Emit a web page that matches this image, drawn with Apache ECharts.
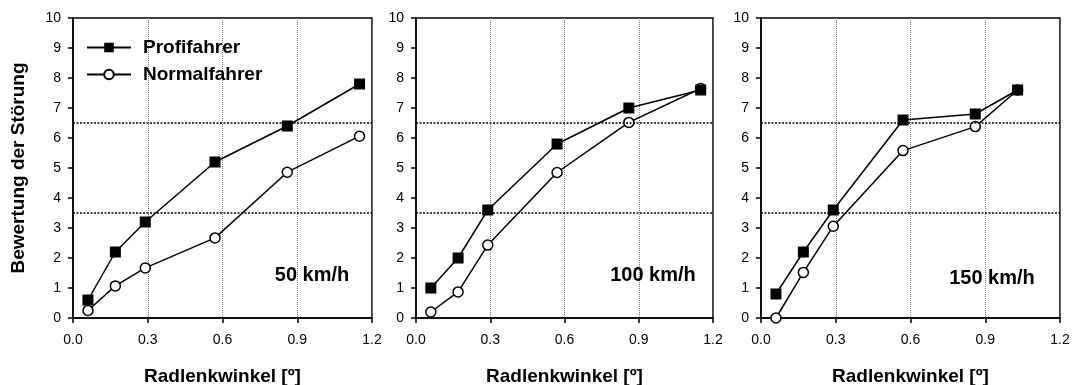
<!DOCTYPE html>
<html>
<head>
<meta charset="utf-8">
<script src="https://cdn.jsdelivr.net/npm/echarts@6/dist/echarts.min.js"></script>
<style>html,body{margin:0;padding:0;background:#fff}#c{width:1075px;height:385px}</style>
</head>
<body>
<div id="c"></div>
<script>
// ---- data ----
const panelLabels = ['50 km/h', '100 km/h', '150 km/h'];
const seriesNames = ['Profifahrer', 'Normalfahrer'];
const xTicks = [0.0, 0.3, 0.6, 0.9, 1.2];
const yTicks = [0, 1, 2, 3, 4, 5, 6, 7, 8, 9, 10];
const refLevels = [3.5, 6.5];
const xAxisTitle = 'Radlenkwinkel [º]';
const yAxisTitle = 'Bewertung der Störung';

const x50 = [0.06, 0.17, 0.29, 0.57, 0.86, 1.15];
const profi50 = [0.6, 2.2, 3.2, 5.2, 6.4, 7.8];
const normal50 = [0.25, 1.07, 1.67, 2.67, 4.86, 6.06];

const x100 = [0.06, 0.17, 0.29, 0.57, 0.86, 1.15];
const profi100 = [1.0, 2.0, 3.6, 5.8, 7.0, 7.6];
const normal100 = [0.2, 0.87, 2.43, 4.85, 6.52, 7.65];

const x150 = [0.06, 0.17, 0.29, 0.57, 0.86, 1.03];
const profi150 = [0.8, 2.2, 3.6, 6.6, 6.8, 7.6];
const normal150 = [0.0, 1.52, 3.06, 5.58, 6.38, 7.6];

const panels = [
  {x: x50, profi: profi50, normal: normal50},
  {x: x100, profi: profi100, normal: normal100},
  {x: x150, profi: profi150, normal: normal150}
];

// ---- layout ----
const FONT = 'Arial, "Liberation Sans", sans-serif';
const grids = [
  {left: 73, top: 18, width: 299, height: 300},
  {left: 416, top: 18, width: 297, height: 300},
  {left: 761, top: 18, width: 299, height: 300}
];
const labelPos = [[312, 275], [653, 275], [992, 278]];

const zip = (xs, ys) => xs.map((v, i) => [v, ys[i]]);

const option = {
  animation: false,
  backgroundColor: '#fff',
  grid: grids.map(g => Object.assign({
    show: true, borderColor: '#000', borderWidth: 1.5, backgroundColor: 'transparent',
    containLabel: false, outerBoundsMode: 'none'
  }, g)),
  xAxis: grids.map((g, i) => ({
    type: 'value', gridIndex: i, min: xTicks[0], max: xTicks[xTicks.length - 1], interval: 0.3,
    name: xAxisTitle, nameLocation: 'middle', nameGap: 49,
    nameTextStyle: {fontFamily: FONT, fontWeight: 'bold', fontSize: 19, color: '#000'},
    axisLine: {show: true, onZero: false, lineStyle: {color: '#000', width: 1.5}},
    axisTick: {show: true, length: 5, lineStyle: {color: '#000', width: 1.5}},
    axisLabel: {fontFamily: FONT, fontSize: 14, color: '#000', margin: 15, formatter: v => v.toFixed(1)},
    splitLine: {show: true, lineStyle: {color: '#777', width: 1, type: [1, 1]}}
  })),
  yAxis: grids.map((g, i) => ({
    type: 'value', gridIndex: i, min: yTicks[0], max: yTicks[yTicks.length - 1], interval: 1,
    name: i === 0 ? yAxisTitle : '', nameLocation: 'middle', nameGap: 45,
    nameTextStyle: {fontFamily: FONT, fontWeight: 'bold', fontSize: 19, color: '#000'},
    axisLine: {show: true, onZero: false, lineStyle: {color: '#000', width: 1.5}},
    axisTick: {show: true, length: 5, lineStyle: {color: '#000', width: 1.5}},
    axisLabel: {fontFamily: FONT, fontSize: 14, color: '#000', margin: 12},
    splitLine: {show: false}
  })),
  legend: {
    data: seriesNames,
    orient: 'vertical', left: 81, top: 33, itemGap: 8,
    itemWidth: 44, itemHeight: 12,
    textStyle: {fontFamily: FONT, fontWeight: 'bold', fontSize: 19, color: '#000', padding: [0, 0, 0, 7]}
  },
  series: [],
  graphic: panelLabels.map((t, i) => ({
    type: 'text', x: labelPos[i][0], y: labelPos[i][1], z: 100,
    style: {text: t, font: 'bold 20px ' + FONT, fill: '#000', align: 'center', verticalAlign: 'middle'}
  }))
};

panels.forEach((p, i) => {
  option.series.push({
    name: seriesNames[1], type: 'line', xAxisIndex: i, yAxisIndex: i,
    data: zip(p.x, p.normal), clip: false,
    symbol: 'circle', symbolSize: 10,
    lineStyle: {color: '#000', width: 1.5},
    itemStyle: {color: '#fff', borderColor: '#000', borderWidth: 1.5},
    z: 3,
    markLine: {
      silent: true, symbol: 'none', label: {show: false},
      lineStyle: {color: '#000', width: 1.5, type: [2, 1.5]},
      data: refLevels.map(v => ({yAxis: v}))
    }
  });
  option.series.push({
    name: seriesNames[0], type: 'line', xAxisIndex: i, yAxisIndex: i,
    data: zip(p.x, p.profi), clip: false,
    symbol: 'rect', symbolSize: 11,
    lineStyle: {color: '#000', width: 1.5},
    itemStyle: {color: '#000'},
    z: 4
  });
});

const chart = echarts.init(document.getElementById('c'), null, {renderer: 'canvas'});
chart.setOption(option);
</script>
</body>
</html>
